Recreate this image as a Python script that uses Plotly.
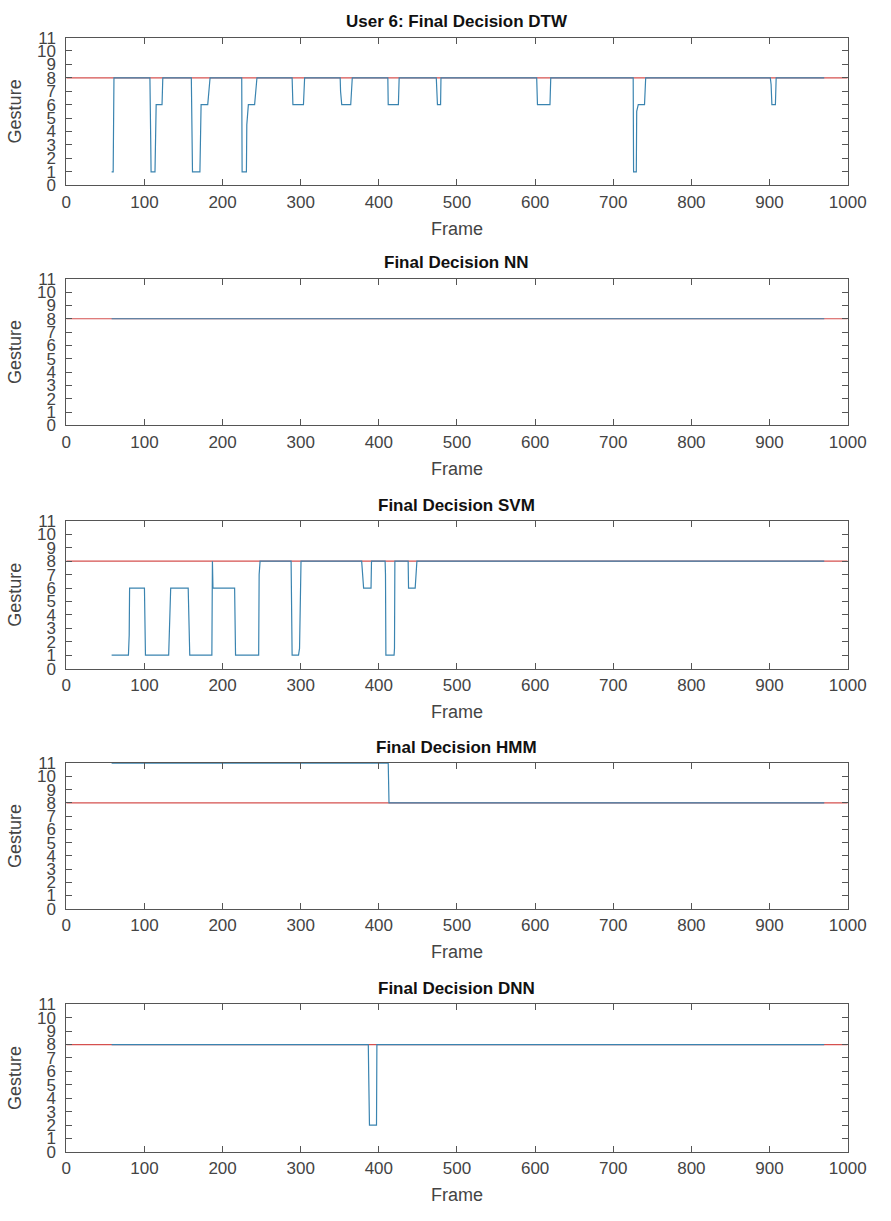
import plotly.graph_objects as go

W, H = 891, 1221

titles = ["User 6: Final Decision DTW", "Final Decision NN", "Final Decision SVM",
          "Final Decision HMM", "Final Decision DNN"]

# ground truth (red)
gt_frames = [0, 1000]
gt_values = [8, 8]

# final decisions (blue) as breakpoints (frame, gesture)
dtw_frames = [58, 60, 61, 107, 108, 108.5, 113.5, 114, 115, 122.5, 123.5,
              160, 160.5, 161.5, 171, 171.5, 172.5, 181, 184,
              224.5, 225, 230.5, 231, 233, 241, 244,
              289, 290, 303.5, 305,
              350.5, 351, 352.5, 364, 365, 366,
              411.5, 412, 425, 426,
              473.5, 474, 475, 479, 479.5,
              602, 603, 619, 620,
              725.5, 726, 729.5, 730, 732, 740, 741.5,
              901, 902, 903, 907.5, 908.5, 970]
dtw_values = [1, 1, 8, 8, 3.5, 1, 1, 4, 6, 6, 8,
              8, 2, 1, 1, 4.3, 6, 6, 8,
              8, 1, 1, 4.5, 6, 6, 8,
              8, 6, 6, 8,
              8, 7, 6, 6, 7, 8,
              8, 6, 6, 8,
              8, 7, 6, 6, 8,
              8, 6, 6, 8,
              8, 1, 1, 5.5, 6, 6, 8,
              8, 7.5, 6, 6, 8, 8]

nn_frames = [58, 970]
nn_values = [8, 8]

svm_frames = [58, 79.5, 80.5, 81, 100, 101.3,
              131, 132.5, 133.6, 156, 157, 158,
              186.3, 187, 187.7, 215.4, 216, 216.6,
              246.2, 246.8, 248,
              287.7, 289, 297.2, 298.5, 300.4,
              378, 379, 380.5, 390, 390.6,
              408, 408.5, 409, 419.5, 420, 420.5,
              437.5, 438, 446.5, 447.5, 448.7, 970]
svm_values = [1, 1, 2.5, 6, 6, 1,
              1, 3.6, 6, 6, 2.6, 1,
              1, 8, 6, 6, 2.2, 1,
              1, 7, 8,
              8, 1, 1, 1.5, 8,
              8, 7, 6, 6, 8,
              8, 7, 1, 1, 1.5, 8,
              8, 6, 6, 7, 8, 8]

hmm_frames = [58, 412, 413, 970]
hmm_values = [11, 11, 8, 8]

dnn_frames = [58, 386.5, 387, 388, 397, 397.5, 970]
dnn_values = [8, 8, 5.8, 2, 2, 8, 8]

decisions = [(dtw_frames, dtw_values), (nn_frames, nn_values), (svm_frames, svm_values),
             (hmm_frames, hmm_values), (dnn_frames, dnn_values)]

x_ticks = list(range(0, 1001, 100))
y_ticks = list(range(0, 12))

RED = "#d5504f"
BLUE = "#3a84b0"
AXIS = "#555555"
TXT = "#444444"
FONT = "Liberation Sans, Arial, sans-serif"

# pixel geometry of the axes boxes
x_left, x_right = 63, 866
boxes = [(29, 179), (274, 423), (520, 670), (766, 914), (1011, 1161)]

fig = go.Figure()
annotations = []
for i, ((fx, fy), title) in enumerate(zip(decisions, titles)):
    n = i + 1
    xa = "x" if n == 1 else f"x{n}"
    ya = "y" if n == 1 else f"y{n}"
    fig.add_trace(go.Scatter(x=gt_frames, y=gt_values, mode="lines",
                             line=dict(color=RED, width=1.2), xaxis=xa, yaxis=ya,
                             showlegend=False, hoverinfo="skip"))
    fig.add_trace(go.Scatter(x=fx, y=fy, mode="lines",
                             line=dict(color=BLUE, width=1.2), xaxis=xa, yaxis=ya,
                             showlegend=False))
    top, bot = boxes[i]
    xkey = "xaxis" if n == 1 else f"xaxis{n}"
    ykey = "yaxis" if n == 1 else f"yaxis{n}"
    fig.layout[xkey] = dict(
        domain=[x_left / W, x_right / W], anchor=ya, range=[0, 1000],
        tickvals=x_ticks, ticktext=[str(v) for v in x_ticks],
        ticks="inside", ticklen=6, tickcolor=AXIS, mirror="ticks",
        showline=True, linecolor=AXIS, linewidth=1, showgrid=False, zeroline=False,
        tickfont=dict(family=FONT, size=17, color=TXT), ticklabelstandoff=1,
        title=dict(text="Frame", font=dict(family=FONT, size=18, color=TXT), standoff=11),
    )
    fig.layout[ykey] = dict(
        domain=[1 - bot / H, 1 - top / H], anchor=xa, range=[0, 11],
        tickvals=y_ticks, ticktext=[str(v) for v in y_ticks],
        ticks="inside", ticklen=6, tickcolor=AXIS, mirror="ticks",
        showline=True, linecolor=AXIS, linewidth=1, showgrid=False, zeroline=False,
        tickfont=dict(family=FONT, size=17, color=TXT), ticklabelstandoff=6,
        title=dict(text="Gesture", font=dict(family=FONT, size=18, color=TXT), standoff=10),
    )
    annotations.append(dict(
        text=f"<b>{title}</b>", x=(x_left + x_right) / 2 / W, y=1 - (top - 16) / H,
        xref="paper", yref="paper", xanchor="center", yanchor="middle",
        showarrow=False, font=dict(family=FONT, size=17, color="#111111")))

fig.update_layout(width=W, height=H, margin=dict(l=0, r=0, t=0, b=0),
                  plot_bgcolor="white", paper_bgcolor="white",
                  annotations=annotations)
fig.write_html("out.html")
